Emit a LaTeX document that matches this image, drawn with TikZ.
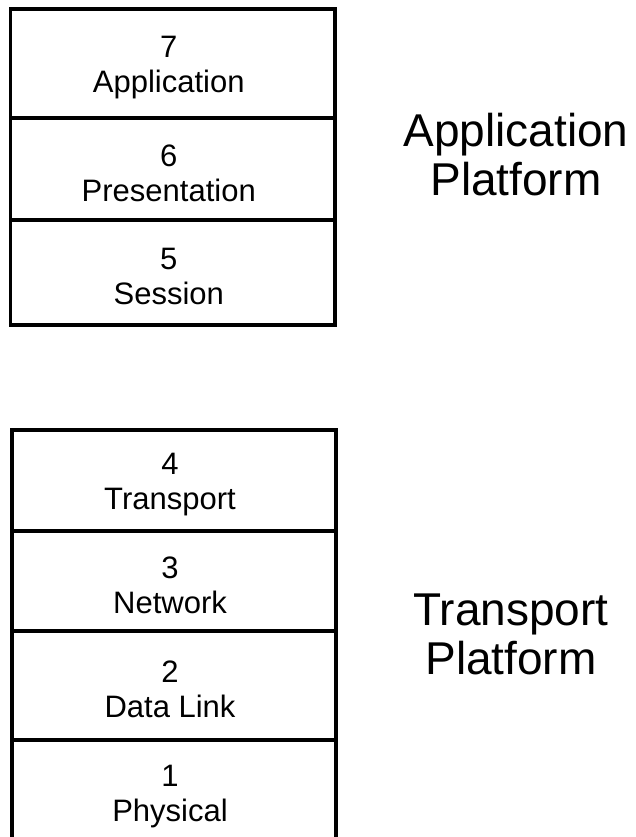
\documentclass[tikz,border=0pt]{standalone}
\usepackage{fontspec}
\setmainfont{Liberation Sans}
\begin{document}
\begin{tikzpicture}[x=1pt,y=-1pt,
  layer/.style={draw=black,line width=3.5pt,rectangle,inner sep=0pt},
  lbl/.style={align=center,inner sep=0pt,xshift=-4pt,yshift=-4pt,
    font=\fontsize{31}{35}\selectfont},
  platform/.style={align=center,font=\fontsize{46}{49}\selectfont}]
\useasboundingbox[fill=white] (0,0) rectangle (636,837);
\clip (0,0) rectangle (636,837);
% Application platform layers
\node[layer,minimum width=324.5pt,minimum height=109pt,label={[lbl]center:{7\\Application}}] (L7) at (172.75,63.5) {};
\node[layer,minimum width=324.5pt,minimum height=102pt,label={[lbl]center:{6\\Presentation}}] (L6) at (172.75,169) {};
\node[layer,minimum width=324.5pt,minimum height=105pt,label={[lbl]center:{5\\Session}}] (L5) at (172.75,272.5) {};
% Transport platform layers
\node[layer,minimum width=324pt,minimum height=101pt,label={[lbl]center:{4\\Transport}}] (L4) at (174,480.5) {};
\node[layer,minimum width=324pt,minimum height=100pt,label={[lbl]center:{3\\Network}}] (L3) at (174,581) {};
\node[layer,minimum width=324pt,minimum height=109pt,label={[lbl]center:{2\\Data Link}}] (L2) at (174,685.5) {};
\node[layer,minimum width=324pt,minimum height=105pt,label={[lbl]center:{1\\Physical}}] (L1) at (174,792.5) {};
% Platform labels
\node[platform] (AP) at (516,155) {Application\\Platform};
\node[platform] (TP) at (511,634) {Transport\\Platform};
\end{tikzpicture}
\end{document}
